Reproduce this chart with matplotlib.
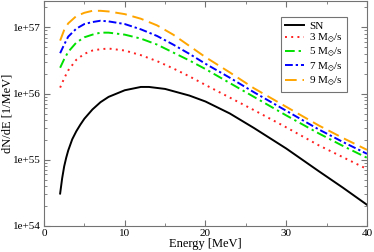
import matplotlib
matplotlib.use("Agg")
import matplotlib.pyplot as plt
from matplotlib.ticker import LogLocator, MultipleLocator, NullFormatter
import numpy as np

plt.rcParams["font.family"] = ["Liberation Serif", "DejaVu Serif"]
plt.rcParams["mathtext.fontset"] = "stix"

# Energy grid [MeV] and log10(dN/dE)
energy = [2, 2.5, 3, 4, 5, 6, 7, 8, 10, 12, 14, 16, 18, 20, 23, 26, 30, 34, 37, 40]
energy_sn = [2, 2.25, 2.5, 2.75, 3, 3.5, 4, 4.5, 5, 6, 7, 8, 10, 12, 13, 15, 18, 20,
             23, 26, 30, 34, 37, 40]

log_sn = [54.49, 54.72, 54.90, 55.03, 55.14, 55.31, 55.43, 55.53, 55.62, 55.76, 55.87,
          55.95, 56.05, 56.10, 56.10, 56.07, 55.97, 55.88, 55.70, 55.48, 55.17, 54.83,
          54.58, 54.32]
log_3 = [56.09, 56.23, 56.35, 56.51, 56.60, 56.65, 56.67, 56.68, 56.65, 56.58,
         56.49, 56.38, 56.26, 56.13, 55.94, 55.75, 55.49, 55.22, 55.04, 54.86]
log_5 = [56.39, 56.52, 56.63, 56.77, 56.85, 56.89, 56.92, 56.92, 56.89, 56.83,
         56.74, 56.62, 56.50, 56.37, 56.16, 55.95, 55.67, 55.40, 55.21, 55.03]
log_7 = [56.61, 56.74, 56.86, 56.98, 57.05, 57.08, 57.10, 57.09, 57.05, 56.97,
         56.87, 56.74, 56.60, 56.45, 56.24, 56.02, 55.74, 55.46, 55.27, 55.09]
log_9 = [56.80, 56.96, 57.06, 57.17, 57.22, 57.25, 57.25, 57.24, 57.20, 57.13,
         57.03, 56.89, 56.72, 56.55, 56.32, 56.08, 55.80, 55.52, 55.33, 55.15]

labels = ["SN", r"3 M$_{\odot}$/s", r"5 M$_{\odot}$/s", r"7 M$_{\odot}$/s", r"9 M$_{\odot}$/s"]

fig = plt.figure(figsize=(3.74, 2.52), dpi=100)
ax = fig.add_axes([0.1176, 0.1032, 0.8637, 0.8928])

ax.plot(energy_sn, 10 ** np.array(log_sn), color="black", lw=1.4, label=labels[0])
ax.plot(energy, 10 ** np.array(log_3), color="#ff2020", lw=1.4, dashes=(1, 2.2), label=labels[1])
ax.plot(energy, 10 ** np.array(log_5), color="#00e000", lw=1.4, dashes=(5, 2, 1.2, 2), label=labels[2])
ax.plot(energy, 10 ** np.array(log_7), color="#0000ff", lw=1.4, dashes=(4, 1.5, 1.2, 1.5), label=labels[3])
ax.plot(energy, 10 ** np.array(log_9), color="#ffa500", lw=1.4, dashes=(6, 3), label=labels[4])

ax.set_yscale("log")
ax.set_xlim(0, 40)
ax.set_ylim(1e54, 2.5e57)

ax.xaxis.set_major_locator(MultipleLocator(10))
ax.xaxis.set_minor_locator(MultipleLocator(5))
ax.yaxis.set_minor_locator(LogLocator(base=10, subs=np.arange(2, 10), numticks=20))
ax.yaxis.set_minor_formatter(NullFormatter())
ax.set_yticks([1e54, 1e55, 1e56, 1e57])
ax.set_yticklabels(["1e+54", "1e+55", "1e+56", "1e+57"])

ax.tick_params(which="both", direction="in", top=True, right=True,
               labelsize=8, color="0.45", pad=2)
ax.tick_params(which="major", length=4, width=0.8)
ax.tick_params(which="minor", length=2, width=0.6)
for s in ax.spines.values():
    s.set_color("0.45")
    s.set_linewidth(0.8)

ax.set_xlabel("Energy [MeV]", fontsize=9, labelpad=0)
ax.set_ylabel("dN/dE [1/MeV]", fontsize=9)
ax.yaxis.set_label_coords(-0.093, 0.5)

leg = ax.legend(loc="upper right", bbox_to_anchor=(0.938, 0.929), borderaxespad=0,
                fontsize=8, handlelength=1.7, labelspacing=0.1, fancybox=False,
                framealpha=1, edgecolor="0.45", borderpad=0.35, handletextpad=0.5)
leg.get_frame().set_linewidth(0.8)

fig.savefig("out.png", dpi=100)
